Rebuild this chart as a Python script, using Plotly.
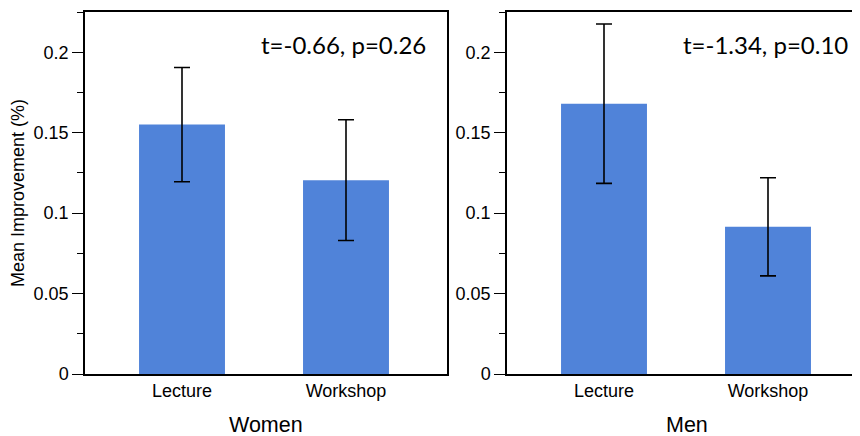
import plotly.graph_objects as go

categories = ["Lecture", "Workshop"]
women_means = [0.155, 0.1205]
women_errors = [0.0355, 0.0375]
men_means = [0.168, 0.0915]
men_errors = [0.0495, 0.0305]
group_labels = ["Women", "Men"]
stat_labels = ["t=-0.66, p=0.26", "t=-1.34, p=0.10"]
y_title = "Mean Improvement (%)"

# page body has an 8px margin; positions below are target screen pixels
OFF = 8
W, H = 860, 436
ML, MR = 0, 0
MT = 12 - OFF
MB = H - (374 - OFF)
PW, PH = W - ML - MR, H - MT - MB

def px_x(x):
    return (x - OFF - ML) / PW

def px_y(y):
    return (H - MB - (y - OFF)) / PH

BAR = "#5083D9"
TICKFONT = dict(family="Liberation Sans, Arial, sans-serif", size=18, color="black")

fig = go.Figure()
for i, (means, errs) in enumerate([(women_means, women_errors), (men_means, men_errors)]):
    sfx = "" if i == 0 else str(i + 1)
    fig.add_trace(go.Bar(
        x=categories, y=means,
        marker=dict(color=BAR, line=dict(width=0)),
        error_y=dict(type="data", array=errs, color="black", thickness=1.6, width=8),
        xaxis="x" + sfx, yaxis="y" + sfx, showlegend=False,
    ))

common_x = dict(showline=True, linecolor="black", linewidth=1.5, ticks="",
                tickfont=TICKFONT, showgrid=False, zeroline=False, fixedrange=True,
                type="category")
common_y = dict(showline=True, linecolor="black", linewidth=1.5, ticks="outside",
                ticklen=11, tickwidth=1.3, tickcolor="black", dtick=0.05,
                range=[0, 0.225], tickfont=TICKFONT, showgrid=False, zeroline=False,
                minor=dict(dtick=0.025, ticks="outside", ticklen=6, tickwidth=1.3, tickcolor="black"))

fig.update_layout(
    width=W, height=H,
    margin=dict(l=ML, r=MR, t=MT, b=MB, autoexpand=False),
    plot_bgcolor="white", paper_bgcolor="white",
    bargap=0.476,
    xaxis=dict(**common_x, domain=[px_x(85), px_x(446.5)], range=[-0.5915, 1.6128],
               anchor="y", mirror=True),
    yaxis=dict(**common_y, domain=[0, 1], anchor="x", mirror=True),
    xaxis2=dict(**common_x, domain=[px_x(507), px_x(860)], range=[-0.5915, 1.561],
                anchor="y2", mirror=True),
    yaxis2=dict(**common_y, domain=[0, 1], anchor="x2", mirror=False),
)

annotations = [
    dict(text=y_title, x=px_x(18), y=px_y(193), xref="paper", yref="paper",
         textangle=-90, showarrow=False, xanchor="center", yanchor="middle",
         font=dict(family="Liberation Sans, Arial, sans-serif", size=18, color="black")),
    dict(text=group_labels[0], x=px_x(265.5), y=px_y(425), xref="paper", yref="paper",
         showarrow=False, xanchor="center", yanchor="middle",
         font=dict(family="Liberation Sans, Arial, sans-serif", size=21.5, color="black")),
    dict(text=group_labels[1], x=px_x(687), y=px_y(425), xref="paper", yref="paper",
         showarrow=False, xanchor="center", yanchor="middle",
         font=dict(family="Liberation Sans, Arial, sans-serif", size=21.5, color="black")),
    dict(text=stat_labels[0], x=px_x(428), y=px_y(44), xref="paper", yref="paper",
         showarrow=False, xanchor="right", yanchor="middle",
         font=dict(family="Lato, sans-serif", size=24, color="black")),
    dict(text=stat_labels[1], x=px_x(850), y=px_y(44), xref="paper", yref="paper",
         showarrow=False, xanchor="right", yanchor="middle",
         font=dict(family="Lato, sans-serif", size=24, color="black")),
]
fig.update_layout(annotations=annotations)

fig.write_html("out.html")
